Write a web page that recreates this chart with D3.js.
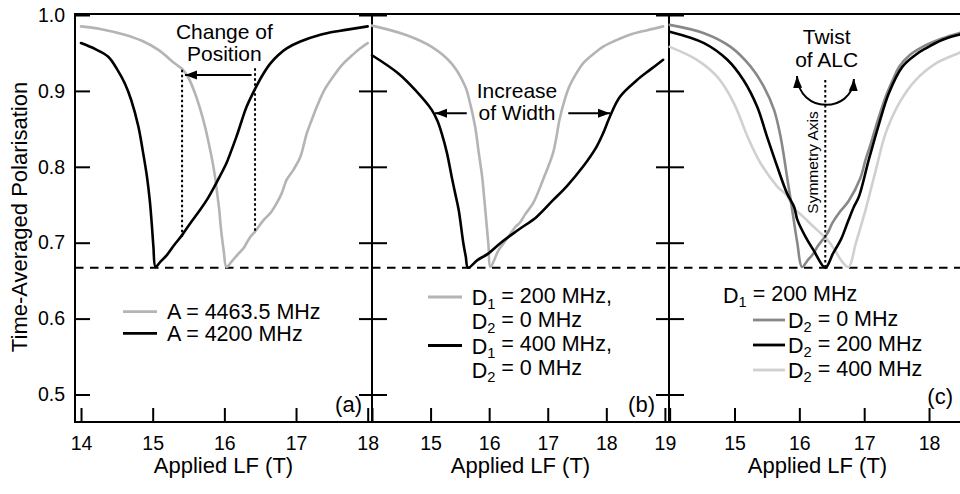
<!DOCTYPE html>
<html><head><meta charset="utf-8">
<script src="https://cdn.jsdelivr.net/npm/d3@7"></script>
<style>
body{margin:0;background:#fff}
svg text{font-family:"Liberation Sans",Arial,Helvetica,sans-serif;fill:#000}
</style>
</head><body>
<svg id="chart" width="960" height="494"></svg>
<script>
// ---------------- DATA ----------------
const yTicks = [0.5, 0.6, 0.7, 0.8, 0.9, 1.0];
const xTicksA = [14, 15, 16, 17, 18];
const xLabelsA = [14, 15, 16, 17, 18];
const xTicksB = [14, 15, 16, 17, 18, 19];
const xLabelsB = [15, 16, 17, 18, 19];
const xTicksC = [14, 15, 16, 17, 18];
const xLabelsC = [15, 16, 17, 18];
const minPolarisation = 0.667;

// panel (a)
const fieldA4463 = [14.0,14.3,14.61,14.85,15.08,15.31,15.41,15.5,15.59,15.66,15.73,15.78,15.83,15.87,15.9,15.93,15.95,15.99,16.03,16.1,16.2,16.27,16.35,16.43,16.55,16.65,16.73,16.8,16.87,16.97,17.06,17.15,17.22,17.29,17.4,17.52,17.64,17.76,17.88,18.0];
const polA4463 = [0.985,0.981,0.974,0.966,0.954,0.936,0.929,0.917,0.897,0.877,0.853,0.832,0.809,0.787,0.765,0.742,0.721,0.690,0.668,0.675,0.686,0.693,0.706,0.715,0.730,0.740,0.752,0.765,0.783,0.797,0.813,0.844,0.862,0.879,0.902,0.919,0.934,0.945,0.955,0.963];
const fieldA4200 = [14.0,14.2,14.38,14.5,14.61,14.7,14.8,14.86,14.92,14.96,14.99,15.01,15.04,15.1,15.2,15.3,15.41,15.52,15.66,15.76,15.85,15.94,16.03,16.1,16.17,16.24,16.31,16.43,16.54,16.64,16.75,16.87,17.06,17.34,17.6,18.0];
const polA4200 = [0.963,0.955,0.945,0.929,0.91,0.888,0.853,0.822,0.787,0.755,0.721,0.695,0.668,0.674,0.684,0.697,0.71,0.725,0.743,0.757,0.772,0.788,0.805,0.822,0.84,0.86,0.879,0.903,0.922,0.936,0.947,0.956,0.965,0.974,0.979,0.985];

// panel (b)
const fieldD1_200 = [14.0,14.57,15.02,15.36,15.59,15.68,15.76,15.82,15.88,15.92,15.96,15.99,16.02,16.16,16.3,16.45,16.52,16.62,16.75,16.92,17.09,17.15,17.2,17.28,17.37,17.48,17.6,17.77,17.94,18.15,18.4,18.7,18.97];
const polD1_200 = [0.986,0.974,0.958,0.936,0.906,0.882,0.853,0.82,0.787,0.755,0.721,0.695,0.668,0.69,0.705,0.721,0.726,0.738,0.752,0.783,0.818,0.84,0.862,0.886,0.906,0.922,0.936,0.948,0.958,0.966,0.974,0.98,0.985];
const fieldD1_400 = [14.0,14.45,14.74,15.02,15.12,15.19,15.28,15.36,15.42,15.48,15.56,15.6,15.64,15.8,15.99,16.2,16.5,16.81,17.09,17.32,17.6,17.83,17.95,18.06,18.23,18.52,18.75,18.97];
const polD1_400 = [0.947,0.923,0.901,0.875,0.86,0.844,0.818,0.787,0.765,0.743,0.699,0.682,0.667,0.677,0.686,0.7,0.717,0.734,0.756,0.774,0.8,0.826,0.845,0.866,0.892,0.914,0.928,0.941];

// panel (c)
const fieldD2_0 = [14.0,14.53,14.94,15.25,15.45,15.61,15.71,15.81,15.89,15.97,16.04,16.13,16.22,16.28,16.43,16.51,16.62,16.76,16.94,17.02,17.1,17.18,17.33,17.45,17.54,17.7,17.9,18.2,18.46,18.6];
const polD2_0 = [0.987,0.976,0.958,0.932,0.906,0.875,0.84,0.787,0.743,0.699,0.668,0.677,0.686,0.695,0.712,0.726,0.74,0.755,0.785,0.809,0.83,0.853,0.892,0.916,0.932,0.947,0.958,0.969,0.976,0.979];
const fieldD2_200 = [14.0,14.53,14.89,15.14,15.35,15.5,15.66,15.81,15.92,15.97,16.1,16.22,16.4,16.52,16.64,16.75,16.84,16.92,17.07,17.23,17.38,17.59,17.8,17.95,18.2,18.46,18.6];
const polD2_200 = [0.978,0.963,0.941,0.914,0.879,0.84,0.8,0.765,0.747,0.73,0.707,0.69,0.667,0.686,0.704,0.728,0.747,0.761,0.809,0.857,0.897,0.932,0.948,0.956,0.967,0.974,0.977];
const fieldD2_400 = [14.0,14.42,14.73,14.99,15.2,15.4,15.66,15.81,15.92,16.05,16.22,16.43,16.55,16.66,16.76,16.87,17.02,17.18,17.33,17.54,17.79,18.1,18.46,18.6];
const polD2_400 = [0.958,0.941,0.919,0.884,0.84,0.805,0.774,0.762,0.745,0.735,0.721,0.704,0.69,0.675,0.668,0.699,0.743,0.796,0.844,0.884,0.914,0.936,0.95,0.955];

const legendA = ["A = 4463.5 MHz", "A = 4200 MHz"];
const legendB = [["D_1 = 200 MHz,", "D_2 = 0 MHz"], ["D_1 = 400 MHz,", "D_2 = 0 MHz"]];
const legendCHeader = "D_1 = 200 MHz";
const legendC = ["D_2 = 0 MHz", "D_2 = 200 MHz", "D_2 = 400 MHz"];
const panelLabels = ["(a)", "(b)", "(c)"];
const xTitle = "Applied LF (T)";
const yTitle = "Time-Averaged Polarisation";

// ---------------- LAYOUT ----------------
const FONT = '"Liberation Sans",Arial,Helvetica,sans-serif';
const TOP = 14, BOTTOM = 422;
const GRAY = "#b4b4b4", DARKGRAY = "#888888", LIGHTGRAY = "#d0d0d0";
const svg = d3.select("#chart");

const defs = svg.append("defs");
defs.append("marker").attr("id","arrow").attr("viewBox","0 -5 12 10")
  .attr("refX",12).attr("refY",0).attr("markerWidth",12).attr("markerHeight",10)
  .attr("markerUnits","userSpaceOnUse").attr("orient","auto-start-reverse")
  .append("path").attr("d","M0,-4.5L12,0L0,4.5Z").attr("fill","#000");

const y = d3.scaleLinear().domain([0.5, 1.0]).range([394.5, 15]);

const panels = [
  {x0:75, x1:372, domain:[13.916,18.06], ticks:xTicksA, labels:xLabelsA, right:true, yLabels:true},
  {x0:372, x1:669, domain:[14.0,19.07], ticks:xTicksB, labels:xLabelsB, right:true, yLabels:false},
  {x0:669, x1:966, domain:[13.99,18.57], ticks:xTicksC, labels:xLabelsC, right:false, yLabels:false}
];
panels.forEach(p => p.x = d3.scaleLinear().domain(p.domain).range([p.x0, p.x1]));

function styleAxis(g, size){
  g.attr("font-family", FONT).attr("font-size", size);
  g.select(".domain").remove();
  g.selectAll(".tick line").attr("stroke","#000").attr("stroke-width",2);
  g.selectAll(".tick text").attr("fill","#000");
}

panels.forEach((p, i) => {
  svg.append("g").attr("transform", `translate(0,${BOTTOM})`)
    .call(d3.axisBottom(p.x).tickValues(p.ticks).tickSize(-14).tickSizeOuter(0).tickPadding(14)
      .tickFormat(d => p.labels.includes(d) ? d3.format("d")(d) : ""))
    .call(g => styleAxis(g, 19.5));
  svg.append("g").attr("transform", `translate(${p.x0},0)`)
    .call(d3.axisLeft(y).tickValues(yTicks).tickSize(-15).tickSizeOuter(0).tickPadding(10)
      .tickFormat(d => p.yLabels ? d3.format(".1f")(d) : ""))
    .call(g => styleAxis(g, 19.5));
  if (p.right) {
    svg.append("g").attr("transform", `translate(${p.x1},0)`)
      .call(d3.axisRight(y).tickValues(yTicks).tickSize(-13).tickSizeOuter(0).tickFormat(""))
      .call(g => styleAxis(g, 19.5));
  }
  svg.append("rect").attr("x", p.x0).attr("y", TOP).attr("width", p.x1 - p.x0).attr("height", BOTTOM - TOP)
    .attr("fill","none").attr("stroke","#000").attr("stroke-width",2);
  svg.append("text").attr("x", (p.x0 + p.x1) / 2).attr("y", 473).attr("text-anchor","middle")
    .attr("font-size", 22).text(xTitle);
  svg.append("line").attr("x1", p.x0).attr("x2", p.x1).attr("y1", y(minPolarisation)).attr("y2", y(minPolarisation))
    .attr("stroke","#000").attr("stroke-width",2).attr("stroke-dasharray","8.5,6.5");
});

svg.append("text").attr("transform","translate(27,217) rotate(-90)").attr("text-anchor","middle")
  .attr("font-size",22).text(yTitle);

const labelPos = [[362,412],[655,412],[953,404]];
panelLabels.forEach((t,i) => svg.append("text").attr("x",labelPos[i][0]).attr("y",labelPos[i][1])
  .attr("text-anchor","end").attr("font-size",22).text(t));

function drawCurve(p, fx, py, color){
  const pts = fx.map((f,i) => [f, py[i]]);
  svg.append("path").datum(pts)
    .attr("d", d3.line().x(d => p.x(d[0])).y(d => y(d[1])).curve(d3.curveCatmullRom.alpha(0.5)))
    .attr("fill","none").attr("stroke",color).attr("stroke-width",2.6)
    .attr("stroke-linejoin","round").attr("stroke-linecap","round");
}
const [pa, pb, pc] = panels;
drawCurve(pa, fieldA4463, polA4463, GRAY);
drawCurve(pa, fieldA4200, polA4200, "#000");
drawCurve(pb, fieldD1_200, polD1_200, GRAY);
drawCurve(pb, fieldD1_400, polD1_400, "#000");
drawCurve(pc, fieldD2_400, polD2_400, LIGHTGRAY);
drawCurve(pc, fieldD2_0, polD2_0, DARKGRAY);
drawCurve(pc, fieldD2_200, polD2_200, "#000");

function richText(sel, str){
  const parts = str.split(/_(\d)/);
  parts.forEach((s, i) => {
    if (i % 2 === 1) sel.append("tspan").attr("font-size","0.68em").attr("dy","0.3em").text(s);
    else if (s) {
      const t = sel.append("tspan").text(s);
      if (i > 0) t.attr("dy","-0.3em");
    }
  });
}
function legendLine(x1, x2, yy, color){
  svg.append("line").attr("x1",x1).attr("x2",x2).attr("y1",yy).attr("y2",yy)
    .attr("stroke",color).attr("stroke-width",2.8);
}

[GRAY, "#000"].forEach((c,i) => {
  const yy = 311.7 + i * 21.7;
  legendLine(pa.x0 + 48, pa.x0 + 82, yy, c);
  svg.append("text").attr("x", pa.x0 + 92).attr("y", yy + 7.5).attr("font-size",21.5).text(legendA[i]);
});
[GRAY, "#000"].forEach((c,i) => {
  const base = 305 + i * 48.5;
  legendLine(pb.x0 + 56, pb.x0 + 90, base - 8, c);
  legendB[i].forEach((t,j) => {
    const tx = svg.append("text").attr("x", pb.x0 + 99.7).attr("y", base + j * 24).attr("font-size",21.5);
    richText(tx, t);
  });
});
{
  const tx = svg.append("text").attr("x", pc.x0 + 54).attr("y", 303).attr("font-size",21.5);
  richText(tx, legendCHeader);
  [DARKGRAY, "#000", LIGHTGRAY].forEach((c,i) => {
    const base = 328 + i * 25;
    legendLine(pc.x0 + 84, pc.x0 + 116, base - 8, c);
    const t2 = svg.append("text").attr("x", pc.x0 + 119).attr("y", base).attr("font-size",21.5);
    richText(t2, legendC[i]);
  });
}

// ---------------- ANNOTATIONS ----------------
function dotted(p, f, v1, v2){
  svg.append("line").attr("x1",p.x(f)).attr("x2",p.x(f)).attr("y1",y(v1)).attr("y2",y(v2))
    .attr("stroke","#000").attr("stroke-width",2).attr("stroke-dasharray","2.5,2.5");
}
function arrow(p, f1, f2, v){
  svg.append("line").attr("x1",p.x(f1)).attr("x2",p.x(f2)).attr("y1",y(v)).attr("y2",y(v))
    .attr("stroke","#000").attr("stroke-width",2).attr("marker-end","url(#arrow)");
}
function label2(p, f, v, lines, gap){
  const t = svg.append("text").attr("x",p.x(f)).attr("y",y(v)).attr("text-anchor","middle")
    .attr("font-size",21);
  lines.forEach((s,i) => t.append("tspan").attr("x",p.x(f)).attr("dy", i ? gap : 0).text(s));
}
label2(pa, 16.0, 0.968, ["Change of", "Position"], 22.2);
dotted(pa, 15.41, 0.928, 0.708);
dotted(pa, 16.428, 0.930, 0.713);
arrow(pa, 16.38, 15.45, 0.921);
label2(pb, 16.475, 0.891, ["Increase", "of Width"], 22.2);
arrow(pb, 15.617, 15.075, 0.8705);
arrow(pb, 17.351, 18.063, 0.8705);
label2(pc, 16.422, 0.9614, ["Twist", "of ALC"], 22.4);
dotted(pc, 16.40, 0.9144, minPolarisation);
svg.append("text").attr("transform",`translate(${pc.x(16.287)},${y(0.8057)}) rotate(-90)`)
  .attr("text-anchor","middle").attr("font-size",15.5).text("Symmetry Axis");
{
  const p0 = [pc.x(15.963), y(0.9196)], c1 = [pc.x(15.994), y(0.8696)],
        c2 = [pc.x(16.811), y(0.8696)], p3 = [pc.x(16.842), y(0.9157)];
  const path = d3.path();
  path.moveTo(...p0); path.bezierCurveTo(...c1, ...c2, ...p3);
  svg.append("path").attr("d", path.toString()).attr("fill","none").attr("stroke","#000")
    .attr("stroke-width",2).attr("marker-start","url(#arrow)").attr("marker-end","url(#arrow)");
}
</script>
</body></html>
